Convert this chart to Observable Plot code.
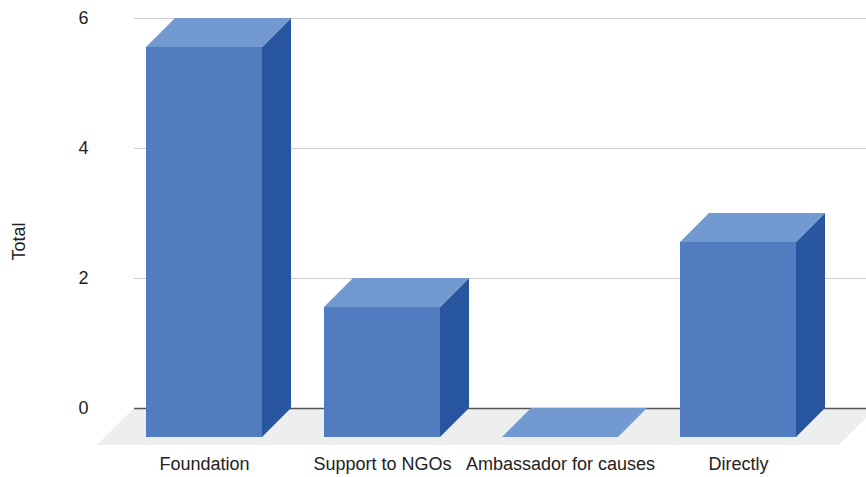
<!DOCTYPE html>
<html>
<head>
<meta charset="utf-8">
<script src="https://cdn.jsdelivr.net/npm/d3@7"></script>
<script src="https://cdn.jsdelivr.net/npm/@observablehq/plot@0.6"></script>
<style>
  html, body { margin: 0; padding: 0; background: #fff; }
</style>
</head>
<body>
<div id="chart"></div>
<script>
// Engagement channels and their totals
const categories = ["Foundation", "Support to NGOs", "Ambassador for causes", "Directly"];
const totals = [6, 2, 0, 3];
const yTicks = [0, 2, 4, 6];
const yLabel = "Total";

const data = categories.map((c, i) => ({category: c, total: totals[i]}));

// Look of the extruded bars
const depth = 29;          // bar extrusion offset (px)
const floorDepth = 37;     // floor extrusion offset (px)
const colors = {front: "#517cc0", top: "#7399d1", side: "#2855a0", floor: "#edeeee"};

// Gray floor slab under the plot area
function floor(index, scales, values, dims) {
  const y0 = scales.y(0);
  const left = dims.marginLeft;
  const right = dims.width - dims.marginRight + 10;
  const g = d3.create("svg:g");
  g.append("polygon")
    .attr("points", [
      [left, y0], [right, y0],
      [right - floorDepth, y0 + floorDepth], [left - floorDepth, y0 + floorDepth]
    ].map(p => p.join(",")).join(" "))
    .attr("fill", colors.floor);
  return g.node();
}

// Top and side faces of each bar, placed with the x and y scales
function extrusion(index, scales) {
  const bwRaw = scales.x.bandwidth;
  const bw = typeof bwRaw === "function" ? bwRaw.call(scales.x) : bwRaw;
  const g = d3.create("svg:g");
  for (const d of data) {
    const x0 = scales.x(d.category);
    const x1 = x0 + bw;
    const yv = scales.y(d.total);
    const y0 = scales.y(0);
    if (d.total > 0) {
      g.append("polygon")
        .attr("points", [[x1, yv], [x1, y0], [x1 - depth, y0 + depth], [x1 - depth, yv + depth]]
          .map(p => p.join(",")).join(" "))
        .attr("fill", colors.side);
    }
    g.append("polygon")
      .attr("points", [[x0, yv], [x1, yv], [x1 - depth, yv + depth], [x0 - depth, yv + depth]]
        .map(p => p.join(",")).join(" "))
      .attr("fill", colors.top);
  }
  return g.node();
}

const chart = Plot.plot({
  width: 866,
  height: 477,
  marginLeft: 134,
  marginRight: 0,
  marginTop: 18,
  marginBottom: 69,
  style: {fontFamily: "'Liberation Sans', Arial, sans-serif", fontSize: "18px", color: "#222", background: "#fff"},
  x: {domain: categories, paddingInner: 0.347, paddingOuter: 0.225, axis: null},
  y: {domain: [0, 6], axis: null},
  marks: [
    floor,
    Plot.ruleY(yTicks.filter(t => t !== 0), {stroke: "#cccccc", strokeWidth: 1}),
    Plot.ruleY([0], {stroke: "#555555", strokeWidth: 1.5}),
    Plot.axisY({ticks: yTicks, tickSize: 0, tickPadding: 46, fontSize: 18, label: null, tickFormat: d => String(d)}),
    Plot.text([yLabel], {frameAnchor: "left", rotate: -90, dx: -115, dy: 47, fontSize: 18, fill: "#222"}),
    Plot.text(categories, {x: d => d, frameAnchor: "bottom", dx: -depth, dy: 61, fontSize: 18, fill: "#222"}),
    Plot.barY(data, {x: "category", y: "total", fill: colors.front, dx: -depth, dy: depth}),
    extrusion
  ]
});

document.getElementById("chart").appendChild(chart);
</script>
</body>
</html>
